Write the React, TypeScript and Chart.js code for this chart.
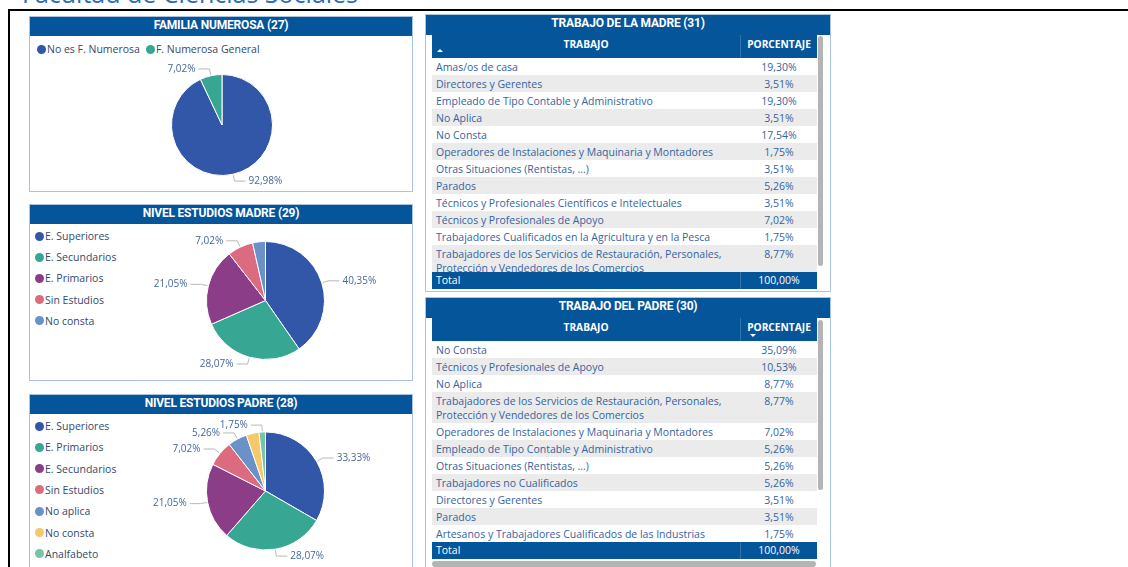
import React, { useEffect, useRef } from 'react';
import { Chart, registerables } from 'chart.js';

Chart.register(...registerables);

// ---------- DATA ----------
const PALETTE = ['#3257A8', '#37A794', '#8B3D88', '#DD6B7F', '#6B91C9', '#F5C869', '#77C4A8'];

const pageTitle = 'Facultad de Ciencias Sociales';

const famTitle = 'FAMILIA NUMEROSA (27)';
const famLabels = ['No es F. Numerosa', 'F. Numerosa General'];
const famValues = [92.98, 7.02];
const famShowLabel = [true, true];

const madreEstTitle = 'NIVEL ESTUDIOS MADRE (29)';
const madreEstLabels = ['E. Superiores', 'E. Secundarios', 'E. Primarios', 'Sin Estudios', 'No consta'];
const madreEstValues = [40.35, 28.07, 21.05, 7.02, 3.51];
const madreEstShowLabel = [true, true, true, true, false];

const padreEstTitle = 'NIVEL ESTUDIOS PADRE (28)';
const padreEstLabels = ['E. Superiores', 'E. Primarios', 'E. Secundarios', 'Sin Estudios', 'No aplica', 'No consta', 'Analfabeto'];
const padreEstValues = [33.33, 28.07, 21.05, 7.02, 5.26, 3.51, 1.75];
const padreEstShowLabel = [true, true, true, true, true, false, true];

const colTrabajo = 'TRABAJO';
const colPorcentaje = 'PORCENTAJE';
const totalLabel = 'Total';
const totalValue = 100;

const trabajoMadreTitle = 'TRABAJO DE LA MADRE (31)';
const trabajoMadreLabels = [
  'Amas/os de casa',
  'Directores y Gerentes',
  'Empleado de Tipo Contable y Administrativo',
  'No Aplica',
  'No Consta',
  'Operadores de Instalaciones y Maquinaria y Montadores',
  'Otras Situaciones (Rentistas, ...)',
  'Parados',
  'Técnicos y Profesionales Científicos e Intelectuales',
  'Técnicos y Profesionales de Apoyo',
  'Trabajadores Cualificados en la Agricultura y en la Pesca',
  'Trabajadores de los Servicios de Restauración, Personales, Protección y Vendedores de los Comercios',
];
const trabajoMadreValues = [19.3, 3.51, 19.3, 3.51, 17.54, 1.75, 3.51, 5.26, 3.51, 7.02, 1.75, 8.77];

const trabajoPadreTitle = 'TRABAJO DEL PADRE (30)';
const trabajoPadreLabels = [
  'No Consta',
  'Técnicos y Profesionales de Apoyo',
  'No Aplica',
  'Trabajadores de los Servicios de Restauración, Personales, Protección y Vendedores de los Comercios',
  'Operadores de Instalaciones y Maquinaria y Montadores',
  'Empleado de Tipo Contable y Administrativo',
  'Otras Situaciones (Rentistas, ...)',
  'Trabajadores no Cualificados',
  'Directores y Gerentes',
  'Parados',
  'Artesanos y Trabajadores Cualificados de las Industrias',
];
const trabajoPadreValues = [35.09, 10.53, 8.77, 8.77, 7.02, 5.26, 5.26, 5.26, 3.51, 3.51, 1.75];

// ---------- STYLE ----------
const BAR_BLUE = '#04559a';
const BORDER = '#a9c4e3';
const TEXT_BLUE = '#3663a0';
const LABEL_BLUE = '#46689c';
const LEGEND_TEXT = '#34496b';
const BODY_FONT = '"Open Sans", "Noto Sans", sans-serif';
const TITLE_FONT = 'Roboto, "Noto Sans", sans-serif';

const fmt = (v: number) => v.toFixed(2).replace('.', ',') + '%';

const leaderPlugin = {
  id: 'leaders',
  afterDatasetsDraw(chart: any, _args: any, opts: any) {
    const ctx = chart.ctx;
    const meta = chart.getDatasetMeta(0);
    const values = chart.data.datasets[0].data as number[];
    const show: boolean[] = opts.show || [];
    ctx.save();
    ctx.font = '10px "Open Sans"';
    meta.data.forEach((arc: any, i: number) => {
      if (!show[i]) return;
      const p = arc.getProps(['x', 'y', 'startAngle', 'endAngle', 'outerRadius'], true);
      const a = (p.startAngle + p.endAngle) / 2;
      const r0 = p.outerRadius + 1;
      const r1 = p.outerRadius + 7;
      const x0 = p.x + Math.cos(a) * r0;
      const y0 = p.y + Math.sin(a) * r0;
      const x1 = p.x + Math.cos(a) * r1;
      const y1 = p.y + Math.sin(a) * r1;
      const dir = Math.cos(a) >= 0 ? 1 : -1;
      const x2 = x1 + dir * 11;
      ctx.strokeStyle = '#b8b8b8';
      ctx.lineWidth = 1;
      ctx.beginPath();
      ctx.moveTo(x0, y0);
      ctx.lineTo(x1, y1);
      ctx.lineTo(x2, y1);
      ctx.stroke();
      ctx.fillStyle = LABEL_BLUE;
      ctx.textAlign = dir > 0 ? 'left' : 'right';
      ctx.textBaseline = 'middle';
      ctx.fillText(fmt(values[i]), x2 + dir * 3, y1);
    });
    ctx.restore();
  },
};

type PieProps = {
  labels: string[];
  values: number[];
  show: boolean[];
  rect: [number, number, number, number];
  center: [number, number];
  radius: number;
};

function PieChart({ labels, values, show, rect, center, radius }: PieProps) {
  const ref = useRef<HTMLCanvasElement>(null);
  useEffect(() => {
    const [x, y, w, h] = rect;
    const rx = center[0] - x;
    const ry = center[1] - y;
    const padding = {
      left: Math.max(0, 2 * rx - w),
      right: Math.max(0, w - 2 * rx),
      top: Math.max(0, 2 * ry - h),
      bottom: Math.max(0, h - 2 * ry),
    };
    const chart = new Chart(ref.current as HTMLCanvasElement, {
      type: 'pie',
      data: {
        labels,
        datasets: [
          {
            data: values,
            backgroundColor: PALETTE.slice(0, values.length),
            borderColor: '#ffffff',
            borderWidth: 1,
            radius,
          } as any,
        ],
      },
      options: {
        responsive: false,
        animation: false,
        radius,
        layout: { padding },
        plugins: {
          legend: { display: false },
          tooltip: { enabled: false },
          leaders: { show },
        } as any,
      } as any,
      plugins: [leaderPlugin],
    });
    return () => chart.destroy();
  }, []);
  return (
    <canvas
      ref={ref}
      width={rect[2]}
      height={rect[3]}
      style={{ position: 'absolute', left: rect[0], top: rect[1], width: rect[2], height: rect[3] }}
    />
  );
}

function Dot({ color }: { color: string }) {
  return (
    <span
      style={{
        display: 'inline-block',
        width: 9,
        height: 9,
        borderRadius: '50%',
        background: color,
        marginRight: 1,
        flex: '0 0 auto',
      }}
    />
  );
}

function Panel({ left, top, width, height, title }: { left: number; top: number; width: number; height: number; title: string }) {
  return (
    <div
      style={{
        position: 'absolute',
        left,
        top,
        width,
        height,
        boxSizing: 'border-box',
        border: `1px solid ${BORDER}`,
        background: '#fff',
      }}
    >
      <div
        style={{
          height: 19,
          background: BAR_BLUE,
          color: '#fff',
          fontFamily: TITLE_FONT,
          fontWeight: 700,
          fontSize: 12,
          lineHeight: '17px',
          textAlign: 'center',
          letterSpacing: -0.2,
          whiteSpace: 'nowrap',
        }}
      >
        {title}
      </div>
    </div>
  );
}

function VLegend({ labels, left, top, step }: { labels: string[]; left: number; top: number; step: number }) {
  return (
    <div style={{ position: 'absolute', left, top }}>
      {labels.map((l, i) => (
        <div
          key={l}
          style={{
            position: 'absolute',
            left: 0,
            top: i * step,
            height: 14,
            display: 'flex',
            alignItems: 'center',
            whiteSpace: 'nowrap',
            fontFamily: BODY_FONT,
            fontSize: 10.5,
            color: LEGEND_TEXT,
          }}
        >
          <Dot color={PALETTE[i]} />
          <span>{l}</span>
        </div>
      ))}
    </div>
  );
}

function HLegend({ labels, left, top }: { labels: string[]; left: number; top: number }) {
  return (
    <div
      style={{
        position: 'absolute',
        left,
        top,
        height: 14,
        display: 'flex',
        alignItems: 'center',
        whiteSpace: 'nowrap',
        fontFamily: BODY_FONT,
        fontSize: 10.5,
        color: LEGEND_TEXT,
      }}
    >
      {labels.map((l, i) => (
        <span key={l} style={{ display: 'flex', alignItems: 'center', marginRight: 6 }}>
          <Dot color={PALETTE[i]} />
          <span>{l}</span>
        </span>
      ))}
    </div>
  );
}

type TableProps = {
  top: number;
  boxHeight: number;
  bodyHeight: number;
  title: string;
  labels: string[];
  values: number[];
  sortOn: 'label' | 'value';
  vScroll: [number, number];
  hScroll?: boolean;
};

const COL1 = 309;
const COL2 = 76;

function JobTable({ top, boxHeight, bodyHeight, title, labels, values, sortOn, vScroll, hScroll }: TableProps) {
  const cellFont = { fontFamily: BODY_FONT, fontSize: 10.5, lineHeight: '14px' };
  const headTop = top + 21;
  const bodyTop = top + 44;
  return (
    <>
      <div
        style={{
          position: 'absolute',
          left: 425,
          top,
          width: 406,
          height: boxHeight,
          boxSizing: 'border-box',
          border: `1px solid ${BORDER}`,
          background: '#fff',
        }}
      >
        <div
          style={{
            height: 20,
            background: BAR_BLUE,
            color: '#fff',
            fontFamily: TITLE_FONT,
            fontWeight: 700,
            fontSize: 12,
            lineHeight: '17px',
            textAlign: 'center',
            letterSpacing: -0.2,
          }}
        >
          {title}
        </div>
      </div>
      {/* column header */}
      <div
        style={{
          position: 'absolute',
          left: 432,
          top: headTop,
          width: COL1 + COL2,
          height: 23,
          background: BAR_BLUE,
          display: 'flex',
          color: '#fff',
          fontFamily: BODY_FONT,
          fontWeight: 700,
          fontSize: 10.2,
          lineHeight: '14px',
        }}
      >
        <div
          style={{
            width: COL1,
            boxSizing: 'border-box',
            borderRight: '1px solid rgba(255,255,255,0.18)',
            textAlign: 'center',
            paddingTop: 2,
            position: 'relative',
          }}
        >
          {colTrabajo}
          {sortOn === 'label' && (
            <span
              style={{
                position: 'absolute',
                left: 5,
                top: 14,
                width: 0,
                height: 0,
                borderLeft: '3px solid transparent',
                borderRight: '3px solid transparent',
                borderBottom: '3px solid #fff',
              }}
            />
          )}
        </div>
        <div style={{ width: COL2, textAlign: 'center', paddingTop: 2, position: 'relative', whiteSpace: 'nowrap' }}>
          {colPorcentaje}
          {sortOn === 'value' && (
            <span
              style={{
                position: 'absolute',
                left: 9,
                top: 16,
                width: 0,
                height: 0,
                borderLeft: '3px solid transparent',
                borderRight: '3px solid transparent',
                borderTop: '3px solid #fff',
              }}
            />
          )}
        </div>
      </div>
      {/* body */}
      <div
        style={{
          position: 'absolute',
          left: 432,
          top: bodyTop,
          width: COL1 + COL2,
          height: bodyHeight,
          overflow: 'hidden',
          background: '#fff',
        }}
      >
        {labels.map((l, i) => (
          <div
            key={l + i}
            style={{
              display: 'flex',
              background: i % 2 === 1 ? '#ebebeb' : '#ffffff',
              color: TEXT_BLUE,
              padding: '1.5px 0',
              ...cellFont,
            }}
          >
            <div style={{ width: COL1, boxSizing: 'border-box', paddingLeft: 4, paddingRight: 4 }}>{l}</div>
            <div style={{ width: COL2, textAlign: 'center' }}>{fmt(values[i])}</div>
          </div>
        ))}
      </div>
      {/* total */}
      <div
        style={{
          position: 'absolute',
          left: 432,
          top: bodyTop + bodyHeight,
          width: COL1 + COL2,
          height: 17,
          background: BAR_BLUE,
          color: '#fff',
          display: 'flex',
          alignItems: 'center',
          ...cellFont,
        }}
      >
        <div
          style={{
            width: COL1,
            boxSizing: 'border-box',
            paddingLeft: 4,
            height: 17,
            lineHeight: '17px',
            borderRight: '1px solid rgba(255,255,255,0.18)',
          }}
        >
          {totalLabel}
        </div>
        <div style={{ width: COL2, textAlign: 'center', lineHeight: '17px' }}>{fmt(totalValue)}</div>
      </div>
      {/* scrollbars */}
      <div
        style={{
          position: 'absolute',
          left: 818,
          top: vScroll[0],
          width: 5,
          height: vScroll[1],
          background: '#b4b4b4',
          borderRadius: 3,
        }}
      />
      {hScroll && (
        <div
          style={{
            position: 'absolute',
            left: 432,
            top: 561,
            width: 384,
            height: 6,
            background: '#b4b4b4',
            borderRadius: 3,
          }}
        />
      )}
    </>
  );
}

export default function App() {
  return (
    <div
      style={{
        position: 'fixed',
        left: 0,
        top: 0,
        width: 1128,
        height: 567,
        overflow: 'hidden',
        background: '#ffffff',
      }}
    >
      {/* page title, mostly scrolled out of view */}
      <div
        style={{
          position: 'absolute',
          left: 22,
          top: -19,
          fontFamily: BODY_FONT,
          fontSize: 25,
          lineHeight: '25px',
          color: '#2b6cb5',
          whiteSpace: 'nowrap',
        }}
      >
        {pageTitle}
      </div>
      {/* black frame lines */}
      <div style={{ position: 'absolute', left: 8, top: 9, width: 1120, height: 2, background: '#000' }} />
      <div style={{ position: 'absolute', left: 8, top: 9, width: 2, height: 560, background: '#000' }} />

      {/* Panel 1 */}
      <Panel left={29} top={16} width={384} height={176} title={famTitle} />
      <HLegend labels={famLabels} left={37} top={42} />
      <PieChart
        labels={famLabels}
        values={famValues}
        show={famShowLabel}
        rect={[30, 36, 382, 155]}
        center={[222, 125]}
        radius={50.5}
      />

      {/* Panel 2 */}
      <Panel left={29} top={204} width={384} height={177} title={madreEstTitle} />
      <VLegend labels={madreEstLabels} left={35} top={229} step={21.2} />
      <PieChart
        labels={madreEstLabels}
        values={madreEstValues}
        show={madreEstShowLabel}
        rect={[30, 224, 382, 156]}
        center={[265.5, 300.5]}
        radius={59}
      />

      {/* Panel 3 */}
      <Panel left={29} top={394} width={384} height={200} title={padreEstTitle} />
      <VLegend labels={padreEstLabels} left={35} top={419} step={21.3} />
      <PieChart
        labels={padreEstLabels}
        values={padreEstValues}
        show={padreEstShowLabel}
        rect={[30, 414, 382, 153]}
        center={[265.5, 491]}
        radius={59}
      />

      {/* Tables */}
      <JobTable
        top={14}
        boxHeight={278}
        bodyHeight={214}
        title={trabajoMadreTitle}
        labels={trabajoMadreLabels}
        values={trabajoMadreValues}
        sortOn="label"
        vScroll={[36, 230]}
      />
      <JobTable
        top={297}
        boxHeight={300}
        bodyHeight={201}
        title={trabajoPadreTitle}
        labels={trabajoPadreLabels}
        values={trabajoPadreValues}
        sortOn="value"
        vScroll={[320, 170]}
        hScroll
      />
    </div>
  );
}
